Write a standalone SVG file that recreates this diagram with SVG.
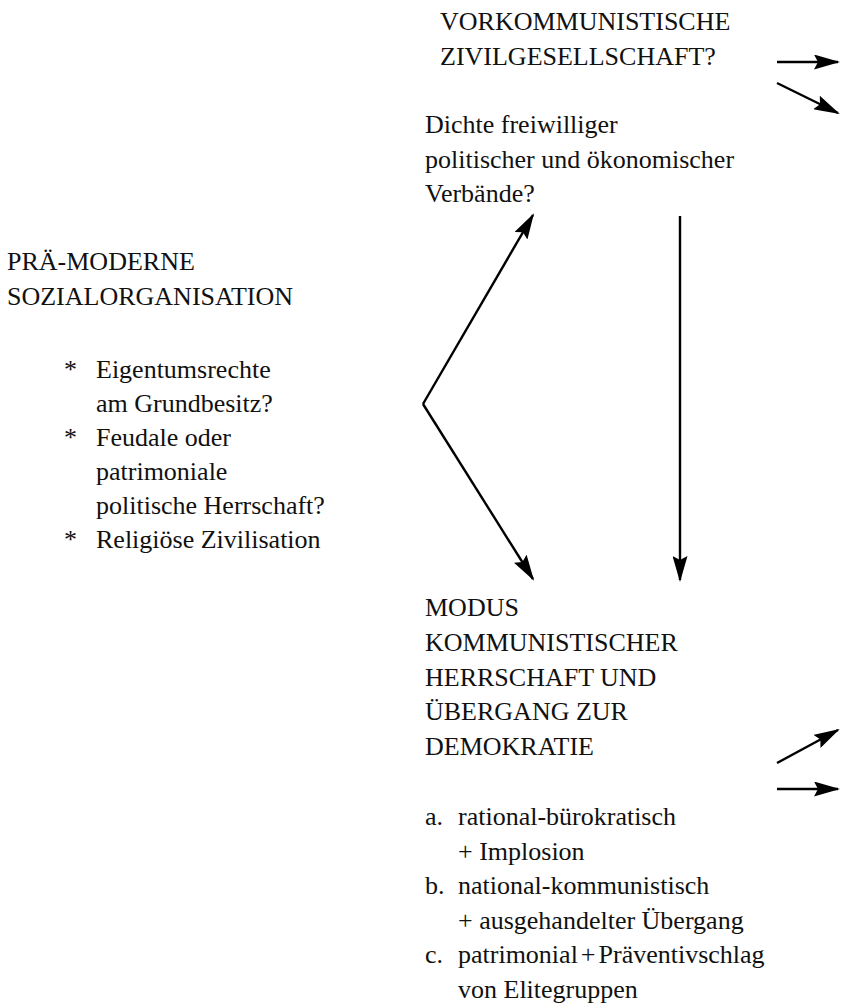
<svg xmlns="http://www.w3.org/2000/svg" width="842" height="1005" viewBox="0 0 842 1005">
<style>
text{font-family:"Liberation Serif","Times New Roman",serif;font-size:26px;fill:#111}
.c{stroke:#000;stroke-width:2.4;fill:none}
</style>
<defs>
<marker id="ah" viewBox="0 0 26 15" refX="24" refY="7.5" markerWidth="26" markerHeight="15" markerUnits="userSpaceOnUse" orient="auto">
<path d="M0,0 L26,7.5 L0,15 L4,7.5 z" fill="#000"/>
</marker>
</defs>
<rect width="842" height="1005" fill="#fff"/>
<g id="vorkommunistische">
<text x="440" y="30">VORKOMMUNISTISCHE</text>
<text x="440" y="65">ZIVILGESELLSCHAFT?</text>
</g>
<g id="dichte">
<text x="425" y="133">Dichte freiwilliger</text>
<text x="425" y="168">politischer und ökonomischer</text>
<text x="425" y="202">Verbände?</text>
</g>
<g id="praemoderne">
<text x="7" y="270">PRÄ-MODERNE</text>
<text x="7" y="305">SOZIALORGANISATION</text>
<text x="64" y="378">*</text><text x="96" y="378">Eigentumsrechte</text>
<text x="96" y="412">am Grundbesitz?</text>
<text x="64" y="446">*</text><text x="96" y="446">Feudale oder</text>
<text x="96" y="480">patrimoniale</text>
<text x="96" y="514">politische Herrschaft?</text>
<text x="64" y="548">*</text><text x="96" y="548">Religiöse Zivilisation</text>
</g>
<g id="modus">
<text x="425" y="616">MODUS</text>
<text x="425" y="651">KOMMUNISTISCHER</text>
<text x="425" y="686">HERRSCHAFT UND</text>
<text x="425" y="720">ÜBERGANG ZUR</text>
<text x="425" y="755">DEMOKRATIE</text>
<text x="425" y="825">a.</text><text x="458" y="825">rational-bürokratisch</text>
<text x="458" y="860">+ Implosion</text>
<text x="425" y="894">b.</text><text x="458" y="894">national-kommunistisch</text>
<text x="458" y="929">+ ausgehandelter Übergang</text>
<text x="425" y="963">c.</text><text x="458" y="963" word-spacing="-3.5">patrimonial + Präventivschlag</text>
<text x="458" y="998">von Elitegruppen</text>
</g>
<g id="connectors">
<path class="c" d="M423,404 L533,215" marker-end="url(#ah)"/>
<path class="c" d="M423,404 L533,579" marker-end="url(#ah)"/>
<path class="c" d="M680,216 L680,580" marker-end="url(#ah)"/>
<path class="c" d="M777,62 L838,62" marker-end="url(#ah)"/>
<path class="c" d="M777,83 L838,113" marker-end="url(#ah)"/>
<path class="c" d="M777,763 L838,730" marker-end="url(#ah)"/>
<path class="c" d="M777,789 L838,789" marker-end="url(#ah)"/>
</g>
</svg>
